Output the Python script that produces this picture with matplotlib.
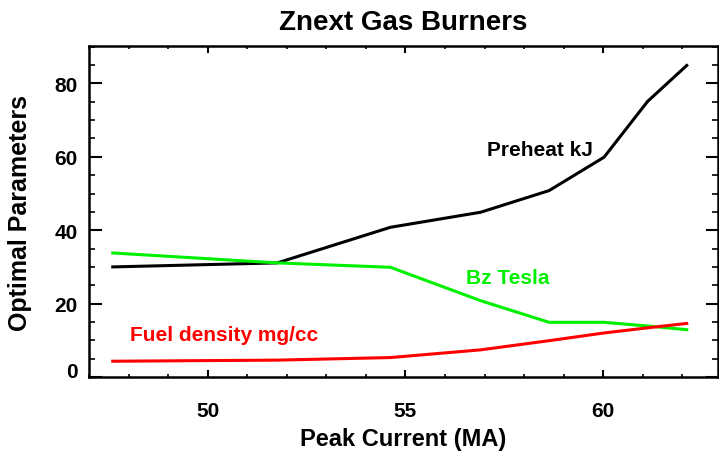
import numpy as np
import matplotlib
matplotlib.use('Agg')
import matplotlib.pyplot as plt
from matplotlib.ticker import MultipleLocator

plt.rcParams['font.family'] = ['Liberation Sans', 'DejaVu Sans']
plt.rcParams['font.weight'] = 'bold'

# Corriente pico (MA) y parametros optimos
corriente = [47.6, 51.76, 54.62, 56.9, 58.63, 60.02, 61.12, 62.11]
precalor = [30.0, 31.1, 40.8, 44.9, 50.8, 59.9, 75.1, 84.9]
campo_bz = [33.8, 31.1, 29.9, 20.8, 14.9, 14.9, 13.9, 12.9]
densidad = [4.3, 4.6, 5.3, 7.4, 9.9, 12.0, 13.4, 14.6]

fig = plt.figure(figsize=(7.19, 4.52), dpi=100)
ax = fig.add_axes([0.1238, 0.1637, 0.8748, 0.7323])

ax.plot(corriente, precalor, color='black', lw=2.2)
ax.plot(corriente, campo_bz, color='#00f000', lw=2.2)
ax.plot(corriente, densidad, color='red', lw=2.2)

ax.text(57.05, 61.9, 'Preheat kJ', color='black', fontsize=15, fontweight='bold', va='center')
ax.text(56.54, 27.0, 'Bz Tesla', color='#00f000', fontsize=15, fontweight='bold', va='center')
ax.text(48.04, 11.7, 'Fuel density mg/cc', color='red', fontsize=15, fontweight='bold', va='center')

ax.set_xlim(47, 62.9)
ax.set_ylim(0, 90.2)
ax.xaxis.set_major_locator(MultipleLocator(5))
ax.xaxis.set_minor_locator(MultipleLocator(1))
ax.yaxis.set_major_locator(MultipleLocator(20))
ax.yaxis.set_minor_locator(MultipleLocator(5))

ax.tick_params(axis='x', which='major', direction='in', top=True, length=5, width=1.5, labelsize=15, pad=17)
ax.tick_params(axis='x', which='minor', direction='in', top=True, length=2.5, width=1.2)
ax.tick_params(axis='y', which='major', direction='in', right=True, length=9, width=1.5, labelsize=15, pad=8)
ax.tick_params(axis='y', which='minor', direction='in', right=True, length=4.5, width=1.2)
for lbl in ax.get_xticklabels() + ax.get_yticklabels():
    lbl.set_fontweight('bold')
for s in ax.spines.values():
    s.set_linewidth(1.8)

# la etiqueta 0 queda un poco mas arriba en el original
fig.canvas.draw()
for lbl in ax.get_yticklabels():
    if lbl.get_text() == '0':
        lbl.set_verticalalignment('baseline')

ax.set_xlabel('Peak Current (MA)', fontsize=17, fontweight='bold', labelpad=5)
ax.set_ylabel('Optimal Parameters', fontsize=18, fontweight='bold', labelpad=16)
ax.set_title('Znext Gas Burners', fontsize=20, fontweight='bold', pad=12)

fig.savefig('out.png', dpi=100)
